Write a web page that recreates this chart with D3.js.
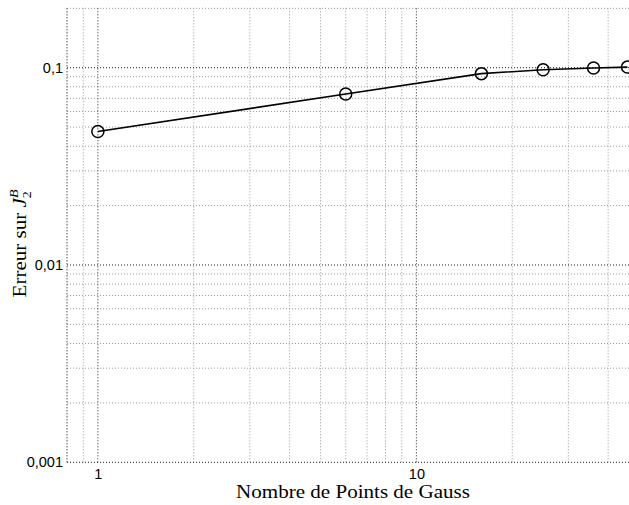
<!DOCTYPE html>
<html><head><meta charset="utf-8">
<script src="https://cdn.jsdelivr.net/npm/d3@7"></script>
<style>body{margin:0;background:#fff}svg{display:block}</style>
</head><body>
<script>
const gaussPoints = [1, 6, 16, 25, 36, 46];
const errorValues = [0.0475, 0.0735, 0.0933, 0.0977, 0.0996, 0.1007];
const xTickValues = [1, 10];
const xTickLabels = ["1", "10"];
const yTickValues = [0.001, 0.01, 0.1];
const yTickLabels = ["0,001", "0,01", "0,1"];
const xDomain = [0.8, 50];
const yDomain = [0.001, 0.2];

const W = 629, H = 505;
const m = {left: 67, top: 8.3, right: -10, bottom: 42.7};
const pw = W - m.left - m.right, ph = H - m.top - m.bottom;

const svg = d3.select("body").append("svg").attr("width", W).attr("height", H);
const g = svg.append("g").attr("transform", `translate(${m.left},${m.top})`);
const x = d3.scaleLog().domain(xDomain).range([0, pw]);
const y = d3.scaleLog().domain(yDomain).range([ph, 0]);

const xMinor = [], yMinor = [];
for (let d = 0.1; d <= 10; d *= 10) for (let k = 1; k <= 9; k++) { const v = +(k*d).toPrecision(3); if (v >= xDomain[0] && v <= xDomain[1] && !xTickValues.includes(v)) xMinor.push(v); }
for (let d = 0.001; d <= 0.1; d *= 10) for (let k = 1; k <= 9; k++) { const v = +(k*d).toPrecision(3); if (v >= yDomain[0] && v <= yDomain[1] && !yTickValues.includes(v)) yMinor.push(v); }

const grid = g.append("g");
grid.selectAll(".xm").data(xMinor).join("line")
  .attr("x1", d => x(d)).attr("x2", d => x(d)).attr("y1", 0).attr("y2", ph)
  .attr("stroke", "#999").attr("stroke-width", 1).attr("stroke-dasharray", "1,2");
grid.selectAll(".ym").data(yMinor).join("line")
  .attr("x1", 0).attr("x2", pw).attr("y1", d => y(d)).attr("y2", d => y(d))
  .attr("stroke", "#999").attr("stroke-width", 1).attr("stroke-dasharray", "1,2");
grid.selectAll(".xM").data(xTickValues).join("line")
  .attr("x1", d => x(d)).attr("x2", d => x(d)).attr("y1", 0).attr("y2", ph)
  .attr("stroke", "#222").attr("stroke-width", 1).attr("stroke-dasharray", "1,2");
grid.selectAll(".yM").data(yTickValues).join("line")
  .attr("x1", 0).attr("x2", pw).attr("y1", d => y(d)).attr("y2", d => y(d))
  .attr("stroke", "#222").attr("stroke-width", 1).attr("stroke-dasharray", "1,2");
grid.append("line").attr("x1", 0).attr("x2", 0).attr("y1", 0).attr("y2", ph)
  .attr("stroke", "#444").attr("stroke-dasharray", "1,2");

const xAxis = g.append("g").attr("transform", `translate(0,${ph})`)
  .call(d3.axisBottom(x).tickValues(xTickValues).tickFormat((d, i) => xTickLabels[i]).tickSize(0).tickPadding(6));
const yAxis = g.append("g")
  .call(d3.axisLeft(y).tickValues(yTickValues).tickFormat((d, i) => yTickLabels[i]).tickSize(0).tickPadding(4));
[xAxis, yAxis].forEach(a => {
  a.select(".domain").remove();
  a.selectAll("text").attr("font-family", "Liberation Sans, Arial, sans-serif").attr("font-size", 14.5).attr("fill", "#000");
});

const pts = gaussPoints.map((v, i) => [v, errorValues[i]]);
g.append("path").datum(pts)
  .attr("d", d3.line().x(d => x(d[0])).y(d => y(d[1])))
  .attr("fill", "none").attr("stroke", "#000").attr("stroke-width", 1.6);
g.selectAll("circle").data(pts).join("circle")
  .attr("cx", d => x(d[0])).attr("cy", d => y(d[1])).attr("r", 6)
  .attr("fill", "none").attr("stroke", "#000").attr("stroke-width", 1.5);

svg.append("text").attr("transform", `translate(${m.left + pw / 2},498) scale(1.17,1)`)
  .attr("text-anchor", "middle").attr("font-family", "Liberation Serif, Times New Roman, serif")
  .attr("font-size", 18).text("Nombre de Points de Gauss");

const yl = svg.append("text").attr("transform", "translate(25.5,243.5) rotate(-90) scale(1.17,1)")
  .attr("text-anchor", "middle").attr("font-family", "Liberation Serif, Times New Roman, serif")
  .attr("font-size", 18);
yl.append("tspan").text("Erreur sur ");
yl.append("tspan").attr("font-style", "italic").text("J");
yl.append("tspan").attr("font-size", 12).attr("dy", 5).text("2");
yl.append("tspan").attr("font-size", 12).attr("font-style", "italic").attr("dx", -6).attr("dy", -13).text("B");
</script>
</body></html>
